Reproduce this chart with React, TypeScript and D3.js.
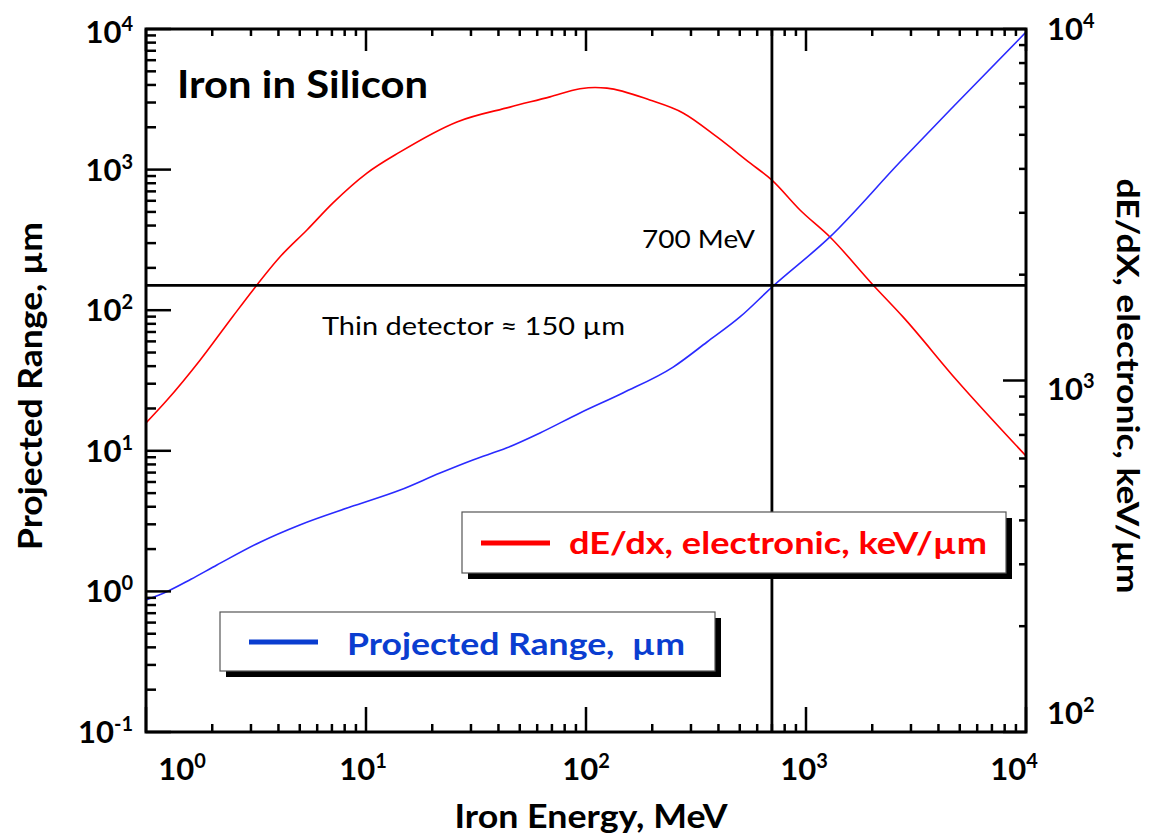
import React from 'react';
import * as d3 from 'd3';

// ---------- data ----------
const energyRed = [1, 1.25, 1.76, 2.49, 3.06, 4.06, 5.39, 7.08, 10.1, 14.3, 25.9, 45.1, 68.6, 93.9, 110, 124.6, 195, 276, 394, 556, 700, 939, 1285, 2017, 2760, 4855, 10000];
const dEdx = [757, 881, 1142, 1526, 1807, 2245, 2680, 3200, 3890, 4470, 5440, 5995, 6410, 6760, 6820, 6790, 6280, 5770, 4930, 4160, 3715, 3055, 2560, 1870, 1517, 1000, 610];

const energyBlue = [1, 1.25, 1.6, 2.1, 3.3, 5.0, 8.46, 14.3, 21.7, 30.6, 43.7, 61.8, 93.9, 147, 249, 355, 501, 700, 1285, 2675, 4515, 10000];
const projRange = [0.87, 1.0, 1.22, 1.54, 2.24, 2.97, 3.98, 5.26, 6.95, 8.61, 10.5, 13.4, 18.6, 25.8, 39.4, 59.4, 89.5, 146, 332, 1132, 2656, 9500];

const xTickExps = [0, 1, 2, 3, 4];
const leftTickExps = [-1, 0, 1, 2, 3, 4];
const rightTickExps = [2, 3, 4];

const markerEnergy = 700;
const markerRange = 150;

const chartTitle = 'Iron in Silicon';
const xTitle = 'Iron Energy, MeV';
const yLeftTitle = 'Projected Range, µm';
const yRightTitle = 'dE/dX, electronic, keV/µm';
const legendRed = 'dE/dx, electronic, keV/µm';
const legendBlue = 'Projected Range,  µm';
const markerEnergyLabel = '700 MeV';
const markerRangeLabel = 'Thin detector ≈ 150 µm';

// ---------- layout ----------
const W = 1151, H = 839;
const L = 146, R = 1026, T = 29, B = 732;
const FONT = "Lato, 'Open Sans', 'DejaVu Sans', sans-serif";
const RED = '#ff0000';
const BLUE = '#2a2aff';
const LEG_BLUE = '#0a3dd0';

export default function App() {
  const x = d3.scaleLog().domain([1, 1e4]).range([L, R]);
  const yL = d3.scaleLog().domain([0.1, 1e4]).range([B, T]);
  const yR = d3.scaleLog().domain([100, 1e4]).range([B, T]);

  const redPath = d3.line<number>()
    .x((_, i) => x(energyRed[i]))
    .y((d) => yR(d))
    .curve(d3.curveMonotoneX)(dEdx) || '';
  const bluePath = d3.line<number>()
    .x((_, i) => x(energyBlue[i]))
    .y((d) => yL(d))
    .curve(d3.curveMonotoneX)(projRange) || '';

  const isMajor = (v: number) => Math.abs(Math.log10(v) - Math.round(Math.log10(v))) < 1e-6;

  const xTicks = x.ticks();
  const yLTicks = yL.ticks();
  const yRTicks = yR.ticks();

  const xLabelShift: Record<number, number> = { 0: 36, 1: -3, 2: 0, 3: -2, 4: -12 };
  const rightLabelShift: Record<number, number> = { 2: -19, 3: 8, 4: 0 };

  const tickLabel = (e: number) => (
    <>
      10<tspan dy={-12} fontSize={20}>{e}</tspan>
    </>
  );

  return (
    <svg width={W} height={H} style={{ position: 'absolute', left: 0, top: 0, background: '#fff' }} fontFamily={FONT}>
      <defs>
        <clipPath id="plotclip">
          <rect x={L} y={T} width={R - L} height={B - T} />
        </clipPath>
      </defs>
      <rect x={0} y={0} width={W} height={H} fill="#fff" />

      {/* curves */}
      <g clipPath="url(#plotclip)" fill="none">
        <path d={redPath} stroke={RED} strokeWidth={1.6} />
        <path d={bluePath} stroke={BLUE} strokeWidth={1.6} />
      </g>

      {/* crosshair lines */}
      <line x1={x(markerEnergy)} x2={x(markerEnergy)} y1={T} y2={B} stroke="#000" strokeWidth={2.8} />
      <line x1={L} x2={R} y1={yL(markerRange)} y2={yL(markerRange)} stroke="#000" strokeWidth={2.8} />

      {/* ticks */}
      <g stroke="#000" strokeWidth={2.5}>
        {xTicks.map((v, i) => {
          const px = x(v);
          const maj = isMajor(v);
          return (
            <g key={'xt' + i}>
              <line x1={px} x2={px} y1={B} y2={B - (maj ? 25 : 8)} />
              <line x1={px} x2={px} y1={T} y2={T + (maj ? 22 : 7)} />
            </g>
          );
        })}
        {yLTicks.map((v, i) => {
          const py = yL(v);
          const maj = isMajor(v);
          return <line key={'yl' + i} x1={L} x2={L + (maj ? 25 : 10)} y1={py} y2={py} />;
        })}
        {yRTicks.map((v, i) => {
          const py = yR(v);
          const maj = isMajor(v);
          return <line key={'yr' + i} x1={R} x2={R - (maj ? 23 : 7)} y1={py} y2={py} />;
        })}
      </g>

      {/* frame */}
      <rect x={L} y={T} width={R - L} height={B - T} fill="none" stroke="#000" strokeWidth={3} />

      {/* tick labels */}
      <g fontWeight={700} fontSize={31} fill="#000">
        {xTickExps.map((e) => (
          <text key={'xl' + e} x={x(Math.pow(10, e)) + xLabelShift[e]} y={780} textAnchor="middle">
            {tickLabel(e)}
          </text>
        ))}
        {leftTickExps.map((e) => (
          <text key={'ll' + e} x={133} y={Math.max(yL(Math.pow(10, e)) + 11, 43)} textAnchor="end">
            {tickLabel(e)}
          </text>
        ))}
        {rightTickExps.map((e) => (
          <text key={'rl' + e} x={1047} y={yR(Math.pow(10, e)) + 11 + rightLabelShift[e]} textAnchor="start">
            {tickLabel(e)}
          </text>
        ))}
      </g>

      {/* axis titles */}
      <text x={591} y={828} textAnchor="middle" fontWeight={700} fontSize={32} textLength={273} lengthAdjust="spacingAndGlyphs">
        {xTitle}
      </text>
      <text transform="translate(42,386) rotate(-90)" textAnchor="middle" fontWeight={700} fontSize={33} textLength={328} lengthAdjust="spacingAndGlyphs">
        {yLeftTitle}
      </text>
      <text transform="translate(1117,386) rotate(90)" textAnchor="middle" fontWeight={700} fontSize={31} textLength={415} lengthAdjust="spacingAndGlyphs">
        {yRightTitle}
      </text>

      {/* chart title */}
      <text x={177} y={98} fontWeight={700} fontSize={38} textLength={251} lengthAdjust="spacingAndGlyphs">
        {chartTitle}
      </text>

      {/* annotations */}
      <text x={642} y={248} fontSize={25} textLength={113} lengthAdjust="spacingAndGlyphs">{markerEnergyLabel}</text>
      <text x={322} y={335} fontSize={25} textLength={303} lengthAdjust="spacingAndGlyphs">{markerRangeLabel}</text>

      {/* red legend */}
      <g>
        <rect x={468} y={518} width={544} height={61} fill="#000" />
        <rect x={462} y={512} width={544} height={61} fill="#fff" stroke="#555" strokeWidth={1.2} />
        <line x1={481} x2={550} y1={543} y2={543} stroke={RED} strokeWidth={5} />
        <text x={569} y={554} fill={RED} fontWeight={700} fontSize={31} textLength={418} lengthAdjust="spacingAndGlyphs">
          {legendRed}
        </text>
      </g>

      {/* blue legend */}
      <g>
        <rect x={226} y={618} width={495} height={59} fill="#000" />
        <rect x={220} y={612} width={495} height={59} fill="#fff" stroke="#555" strokeWidth={1.2} />
        <line x1={249} x2={318} y1={642} y2={642} stroke={LEG_BLUE} strokeWidth={5} />
        <text x={347} y={655} fill={LEG_BLUE} fontWeight={700} fontSize={31} textLength={338} lengthAdjust="spacingAndGlyphs" style={{ whiteSpace: 'pre' }}>
          {legendBlue}
        </text>
      </g>
    </svg>
  );
}
